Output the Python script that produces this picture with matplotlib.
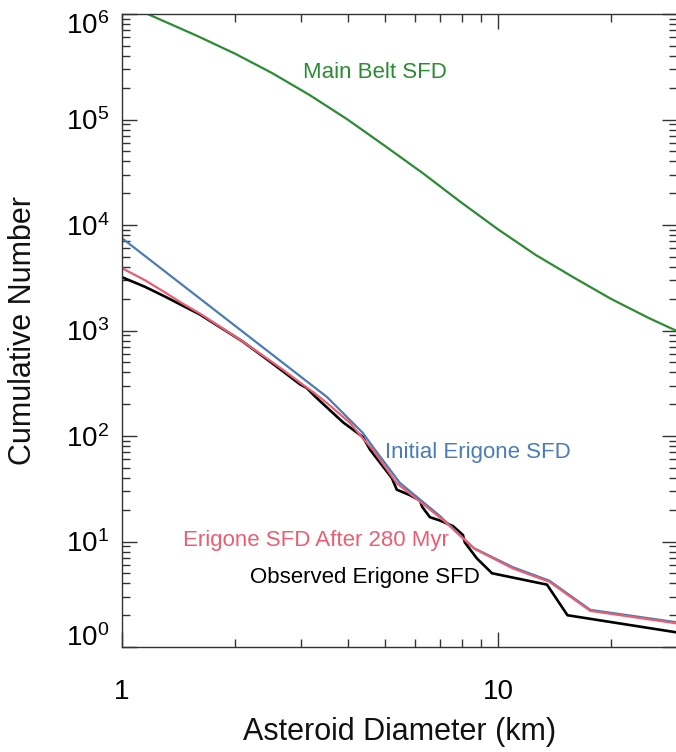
import matplotlib
matplotlib.use("Agg")
import matplotlib.pyplot as plt
from matplotlib.ticker import LogLocator, FixedLocator, NullFormatter, FixedFormatter
from matplotlib.transforms import ScaledTranslation

plt.rcParams['font.family'] = ['Liberation Sans', 'DejaVu Sans']
plt.rcParams['mathtext.fontset'] = 'custom'
plt.rcParams['mathtext.rm'] = 'Liberation Sans'
plt.rcParams['mathtext.it'] = 'Liberation Sans'
plt.rcParams['mathtext.default'] = 'regular'

# ---- data ----
main_d = [1.17, 1.585, 2.0, 2.51, 3.16, 3.98, 5.01, 6.31, 7.94, 10.0, 12.6, 15.85, 19.95, 25.1, 29.7]
main_n = [1.0e6, 6.2e5, 4.2e5, 2.75e5, 1.7e5, 1.0e5, 5.6e4, 3.1e4, 1.66e4, 9.1e3, 5.2e3, 3.2e3,
          2.0e3, 1.32e3, 1.0e3]

init_d = [1.0, 3.51, 4.37, 4.71, 5.48, 7.0, 8.6, 10.96, 13.7, 17.6, 29.7]
init_n = [7500, 234, 107, 74, 36, 17.5, 8.7, 5.7, 4.25, 2.25, 1.72]

after_d = [1.0, 1.15, 1.30, 1.45, 1.61, 1.85, 2.10, 2.40, 2.68, 2.97, 3.25, 3.51, 4.04, 4.37, 4.65,
           5.38, 6.13, 7.14, 8.67, 10.96, 13.7, 17.6, 29.7]
after_n = [3900, 3000, 2300, 1800, 1450, 1050, 780, 560, 424, 322, 255, 205, 133, 95, 74,
           35.6, 24.7, 16.0, 8.5, 5.55, 4.15, 2.2, 1.68]

obs_d = [1.0, 1.15, 1.30, 1.45, 1.61, 1.85, 2.10, 2.40, 2.68, 2.97, 3.10, 3.25, 3.51, 3.87, 4.37,
         4.57, 5.22, 5.38, 5.83, 6.20, 6.28, 6.59, 7.01, 7.59, 8.07, 8.16, 8.79, 9.64, 13.5, 15.3, 29.7]
obs_n = [3200, 2600, 2100, 1720, 1420, 1040, 780, 550, 410, 310, 285, 240, 186, 135, 98,
         74, 40, 31, 27.5, 24.5, 21.4, 17.0, 15.8, 14.0, 11.5, 9.8, 6.9, 5.0, 3.9, 2.0, 1.38]

x_ticks = [1, 10]
x_tick_labels = ['1', '10']
y_ticks = [1e0, 1e1, 1e2, 1e3, 1e4, 1e5, 1e6]
y_tick_labels = [r'$10^{%d}$' % i for i in range(7)]

green = '#2b8c33'
blue = '#4a7cb6'
pink = '#ec5d72'

fig = plt.figure(figsize=(6.76, 7.52), dpi=100)
ax = fig.add_axes([122/676, 105/752, 555.4/676, 633/752])

ax.plot(main_d, main_n, color=green, lw=1.6, solid_joinstyle='round')
ax.plot(obs_d, obs_n, color='black', lw=1.9, solid_joinstyle='round')
ax.plot(init_d, init_n, color=blue, lw=1.6, solid_joinstyle='round')
ax.plot(after_d, after_n, color=pink, lw=1.6, solid_joinstyle='round')

ax.set_xscale('log')
ax.set_yscale('log')
ax.set_xlim(1, 30)
ax.set_ylim(1, 1e6)

ax.xaxis.set_major_locator(FixedLocator(x_ticks))
ax.xaxis.set_major_formatter(FixedFormatter(x_tick_labels))
ax.xaxis.set_minor_locator(LogLocator(base=10, subs=range(2, 10), numticks=20))
ax.xaxis.set_minor_formatter(NullFormatter())
ax.yaxis.set_major_locator(FixedLocator(y_ticks))
ax.yaxis.set_major_formatter(FixedFormatter(y_tick_labels))
ax.yaxis.set_minor_locator(LogLocator(base=10, subs=range(2, 10), numticks=20))
ax.yaxis.set_minor_formatter(NullFormatter())

ax.tick_params(which='both', direction='in', top=True, right=True, color='#333333')
ax.tick_params(which='major', length=11, width=1.0)
ax.tick_params(which='minor', length=6, width=1.0)
ax.tick_params(axis='x', which='major', labelsize=20, pad=23)
ax.tick_params(axis='y', which='major', labelsize=20, pad=9)
for s in ax.spines.values():
    s.set_color('#333333')
    s.set_linewidth(1.0)

ax.set_xlabel('Asteroid Diameter (km)', fontsize=22, color='#111111')
ax.set_ylabel('Cumulative Number', fontsize=22, color='#111111')
ax.xaxis.set_label_coords(0.5, -0.110)
ax.yaxis.set_label_coords(-0.152, 0.5)

ax.text(3.03, 2.8e5, 'Main Belt SFD', color=green, fontsize=16, va='center', ha='left')
ax.text(5.0, 70, 'Initial Erigone SFD', color=blue, fontsize=16, va='center', ha='left')
ax.text(1.45, 10.3, 'Erigone SFD After 280 Myr', color=pink, fontsize=16, va='center', ha='left')
ax.text(2.19, 4.6, 'Observed Erigone SFD', color='black', fontsize=16, va='center', ha='left')

# nudge the end y tick labels like the reference (bottom raised, top lowered)
fig.canvas.draw()
ticks = ax.yaxis.get_major_ticks()
ticks[0].label1.set_transform(ticks[0].label1.get_transform() +
                              ScaledTranslation(0, 12/100, fig.dpi_scale_trans))
ticks[-1].label1.set_transform(ticks[-1].label1.get_transform() +
                               ScaledTranslation(0, -9/100, fig.dpi_scale_trans))

fig.savefig('out.png', dpi=100)
